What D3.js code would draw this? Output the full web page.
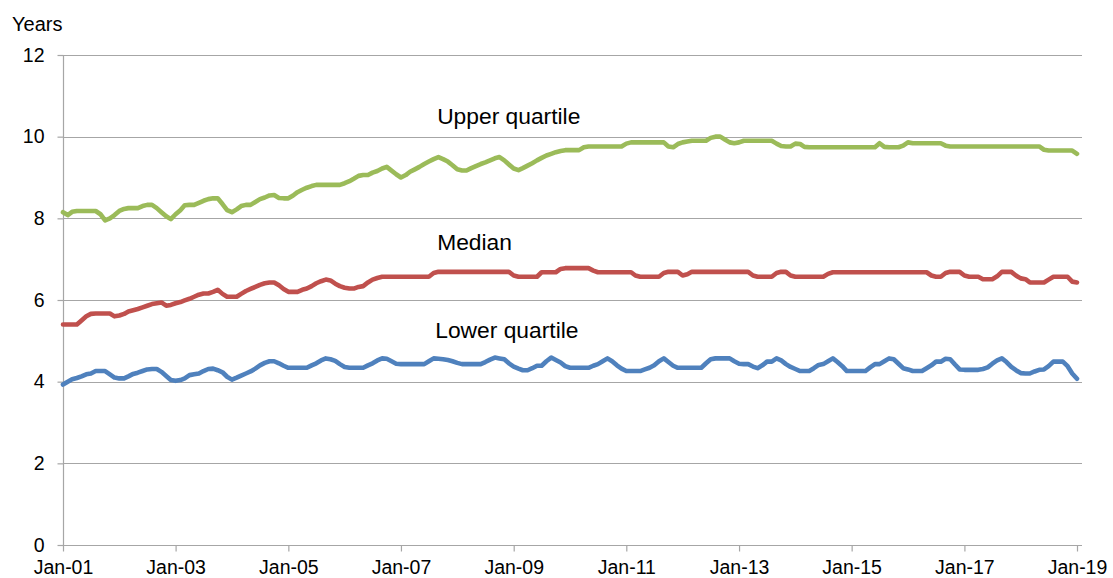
<!DOCTYPE html>
<html>
<head>
<meta charset="utf-8">
<script src="https://cdn.jsdelivr.net/npm/d3@7"></script>
<style>
  html, body { margin: 0; padding: 0; background: #fff; }
  svg { display: block; font-family: "Liberation Sans", Arial, sans-serif; }
</style>
</head>
<body>
<svg id="chart" width="1113" height="578"></svg>
<script>
// ---- Data (monthly, Jan-2001 .. Jan-2019) ----
const firstMonth = new Date(2001, 0, 1);
const lastMonth = new Date(2019, 0, 1);

const upperQuartile = [
  8.15, 8.08, 8.16, 8.18, 8.18, 8.18, 8.18, 8.18, 8.10, 7.95, 8.00, 8.08, // 2001
  8.18, 8.23, 8.25, 8.25, 8.25, 8.30, 8.33, 8.33, 8.25, 8.15, 8.05, 7.98, // 2002
  8.10, 8.20, 8.32, 8.33, 8.33, 8.38, 8.43, 8.47, 8.49, 8.49, 8.35, 8.20, // 2003
  8.15, 8.22, 8.30, 8.33, 8.33, 8.40, 8.47, 8.51, 8.56, 8.57, 8.50, 8.49, // 2004
  8.49, 8.56, 8.64, 8.70, 8.75, 8.79, 8.82, 8.82, 8.82, 8.82, 8.82, 8.82, // 2005
  8.86, 8.91, 8.97, 9.04, 9.06, 9.06, 9.12, 9.16, 9.22, 9.26, 9.17, 9.08, // 2006
  9.00, 9.06, 9.14, 9.20, 9.26, 9.33, 9.39, 9.45, 9.50, 9.45, 9.39, 9.30, // 2007
  9.20, 9.17, 9.17, 9.23, 9.28, 9.33, 9.37, 9.42, 9.47, 9.50, 9.42, 9.32, // 2008
  9.22, 9.18, 9.23, 9.29, 9.35, 9.42, 9.48, 9.54, 9.58, 9.62, 9.65, 9.67, // 2009
  9.67, 9.67, 9.67, 9.74, 9.76, 9.76, 9.76, 9.76, 9.76, 9.76, 9.76, 9.76, // 2010
  9.83, 9.86, 9.86, 9.86, 9.86, 9.86, 9.86, 9.86, 9.86, 9.76, 9.74, 9.82, // 2011
  9.86, 9.88, 9.90, 9.90, 9.90, 9.90, 9.97, 10.00, 10.00, 9.93, 9.86, 9.84, // 2012
  9.86, 9.90, 9.90, 9.90, 9.90, 9.90, 9.90, 9.90, 9.83, 9.77, 9.76, 9.76, // 2013
  9.83, 9.82, 9.75, 9.74, 9.74, 9.74, 9.74, 9.74, 9.74, 9.74, 9.74, 9.74, // 2014
  9.74, 9.74, 9.74, 9.74, 9.74, 9.74, 9.84, 9.75, 9.74, 9.74, 9.74, 9.78, // 2015
  9.86, 9.84, 9.84, 9.84, 9.84, 9.84, 9.84, 9.84, 9.78, 9.76, 9.76, 9.76, // 2016
  9.76, 9.76, 9.76, 9.76, 9.76, 9.76, 9.76, 9.76, 9.76, 9.76, 9.76, 9.76, // 2017
  9.76, 9.76, 9.76, 9.76, 9.76, 9.68, 9.66, 9.66, 9.66, 9.66, 9.66, 9.66, // 2018
  9.58                                                                    // Jan-2019
];

const median = [
  5.40, 5.40, 5.40, 5.40, 5.50, 5.60, 5.66, 5.67, 5.67, 5.67, 5.67, 5.60, // 2001
  5.62, 5.66, 5.72, 5.75, 5.78, 5.82, 5.86, 5.90, 5.92, 5.94, 5.86, 5.88, // 2002
  5.92, 5.95, 5.99, 6.03, 6.08, 6.13, 6.16, 6.16, 6.20, 6.25, 6.15, 6.08, // 2003
  6.08, 6.08, 6.15, 6.22, 6.27, 6.32, 6.37, 6.41, 6.43, 6.43, 6.36, 6.27, // 2004
  6.20, 6.20, 6.20, 6.25, 6.28, 6.34, 6.41, 6.46, 6.50, 6.48, 6.40, 6.34, // 2005
  6.30, 6.28, 6.28, 6.32, 6.34, 6.43, 6.50, 6.54, 6.57, 6.57, 6.57, 6.57, // 2006
  6.57, 6.57, 6.57, 6.57, 6.57, 6.57, 6.57, 6.66, 6.69, 6.69, 6.69, 6.69, // 2007
  6.69, 6.69, 6.69, 6.69, 6.69, 6.69, 6.69, 6.69, 6.69, 6.69, 6.69, 6.69, // 2008
  6.60, 6.57, 6.57, 6.57, 6.57, 6.57, 6.68, 6.68, 6.68, 6.68, 6.76, 6.78, // 2009
  6.78, 6.78, 6.78, 6.78, 6.78, 6.72, 6.68, 6.68, 6.68, 6.68, 6.68, 6.68, // 2010
  6.68, 6.68, 6.60, 6.57, 6.57, 6.57, 6.57, 6.57, 6.66, 6.69, 6.69, 6.69, // 2011
  6.60, 6.63, 6.69, 6.69, 6.69, 6.69, 6.69, 6.69, 6.69, 6.69, 6.69, 6.69, // 2012
  6.69, 6.69, 6.69, 6.60, 6.57, 6.57, 6.57, 6.57, 6.66, 6.69, 6.69, 6.60, // 2013
  6.57, 6.57, 6.57, 6.57, 6.57, 6.57, 6.57, 6.64, 6.68, 6.68, 6.68, 6.68, // 2014
  6.68, 6.68, 6.68, 6.68, 6.68, 6.68, 6.68, 6.68, 6.68, 6.68, 6.68, 6.68, // 2015
  6.68, 6.68, 6.68, 6.68, 6.68, 6.60, 6.57, 6.57, 6.66, 6.69, 6.69, 6.69, // 2016
  6.60, 6.57, 6.57, 6.57, 6.51, 6.51, 6.51, 6.58, 6.69, 6.69, 6.69, 6.60, // 2017
  6.53, 6.51, 6.43, 6.43, 6.43, 6.43, 6.50, 6.57, 6.57, 6.57, 6.57, 6.45, // 2018
  6.43                                                                    // Jan-2019
];

const lowerQuartile = [
  3.93, 4.00, 4.06, 4.09, 4.13, 4.18, 4.20, 4.26, 4.26, 4.26, 4.18, 4.10, // 2001
  4.08, 4.08, 4.13, 4.19, 4.22, 4.26, 4.30, 4.31, 4.31, 4.24, 4.14, 4.04, // 2002
  4.02, 4.04, 4.08, 4.16, 4.18, 4.20, 4.26, 4.31, 4.32, 4.28, 4.23, 4.12, // 2003
  4.05, 4.10, 4.15, 4.20, 4.25, 4.32, 4.40, 4.46, 4.50, 4.50, 4.45, 4.39, // 2004
  4.34, 4.34, 4.34, 4.34, 4.34, 4.40, 4.45, 4.52, 4.57, 4.55, 4.51, 4.43, // 2005
  4.36, 4.34, 4.34, 4.34, 4.34, 4.40, 4.45, 4.52, 4.57, 4.56, 4.50, 4.44, // 2006
  4.43, 4.43, 4.43, 4.43, 4.43, 4.43, 4.50, 4.57, 4.56, 4.55, 4.53, 4.50, // 2007
  4.46, 4.43, 4.43, 4.43, 4.43, 4.43, 4.48, 4.54, 4.59, 4.57, 4.55, 4.45, // 2008
  4.37, 4.32, 4.28, 4.28, 4.33, 4.39, 4.39, 4.50, 4.59, 4.53, 4.47, 4.38, // 2009
  4.34, 4.34, 4.34, 4.34, 4.34, 4.39, 4.43, 4.50, 4.57, 4.50, 4.40, 4.32, // 2010
  4.26, 4.26, 4.26, 4.26, 4.30, 4.34, 4.40, 4.50, 4.57, 4.48, 4.39, 4.34, // 2011
  4.34, 4.34, 4.34, 4.34, 4.34, 4.45, 4.55, 4.57, 4.57, 4.57, 4.57, 4.50, // 2012
  4.44, 4.43, 4.43, 4.37, 4.33, 4.40, 4.49, 4.49, 4.57, 4.52, 4.43, 4.36, // 2013
  4.31, 4.26, 4.26, 4.26, 4.33, 4.41, 4.43, 4.50, 4.57, 4.48, 4.38, 4.26, // 2014
  4.26, 4.26, 4.26, 4.26, 4.35, 4.43, 4.43, 4.50, 4.57, 4.55, 4.44, 4.33, // 2015
  4.30, 4.26, 4.26, 4.26, 4.33, 4.40, 4.49, 4.49, 4.56, 4.55, 4.42, 4.30, // 2016
  4.29, 4.29, 4.29, 4.29, 4.31, 4.35, 4.44, 4.52, 4.57, 4.48, 4.36, 4.28, // 2017
  4.21, 4.20, 4.20, 4.25, 4.29, 4.30, 4.38, 4.49, 4.49, 4.49, 4.38, 4.20, // 2018
  4.07                                                                    // Jan-2019
];

const seriesNames = ["Upper quartile", "Median", "Lower quartile"];
const seriesColors = ["#9BBB59", "#C0504D", "#4F81BD"];
const xTickLabels = ["Jan-01", "Jan-03", "Jan-05", "Jan-07", "Jan-09", "Jan-11", "Jan-13", "Jan-15", "Jan-17", "Jan-19"];
const yTickValues = [0, 2, 4, 6, 8, 10, 12];
const yAxisTitle = "Years";
// label anchor points (months after Jan-01, value) for the series annotations
const labelMonths = [79.7, 79.7, 79.3];
const labelValues = [10.31, 7.22, 5.07];

// ---- Chart ----
const svg = d3.select("#chart");
const plotLeft = 63, plotRight = 1077, plotTop = 55, plotBottom = 545;

const months = d3.timeMonth.range(firstMonth, d3.timeMonth.offset(lastMonth, 1));
const x = d3.scaleTime().domain([firstMonth, lastMonth]).range([plotLeft, plotRight]);
const y = d3.scaleLinear().domain([0, 12]).range([plotBottom, plotTop]);
const monthIndex = d3.scaleLinear().domain([0, months.length - 1]).range([plotLeft, plotRight]);

const gridColor = "#A6A6A6";
const tickDates = xTickLabels.map(l => d3.timeParse("%b-%y")(l));

// gridlines
svg.append("g")
  .selectAll("line")
  .data(yTickValues.filter(v => v > 0))
  .join("line")
  .attr("x1", plotLeft).attr("x2", plotRight + 5)
  .attr("y1", d => Math.round(y(d)) + 0.5).attr("y2", d => Math.round(y(d)) + 0.5)
  .attr("stroke", gridColor).attr("stroke-width", 1.2);

// y axis
const yAxis = svg.append("g")
  .attr("transform", `translate(${plotLeft + 0.5},0)`)
  .call(d3.axisLeft(y).tickValues(yTickValues).tickSize(6).tickPadding(13).tickFormat(d3.format("d")));
yAxis.select(".domain").attr("stroke", gridColor).attr("stroke-width", 1.2).attr("d", `M0,${y(12)}V${y(0)}`);
yAxis.selectAll(".tick line").attr("stroke", gridColor).attr("stroke-width", 1.2);
yAxis.selectAll(".tick text").attr("fill", "#000").style("font-size", "19.5px").attr("font-family", "Liberation Sans, Arial, sans-serif");

// x axis
const xAxis = svg.append("g")
  .attr("transform", `translate(0,${Math.round(y(0)) + 0.5})`)
  .call(d3.axisBottom(x).tickValues(tickDates).tickSize(6).tickPadding(9).tickFormat((d, i) => xTickLabels[i]));
xAxis.select(".domain").attr("stroke", gridColor).attr("stroke-width", 1.2).attr("d", `M${plotLeft},0H${plotRight + 5}`);
xAxis.selectAll(".tick line").attr("stroke", gridColor).attr("stroke-width", 1.2);
xAxis.selectAll(".tick text").attr("fill", "#000").style("font-size", "19.5px").attr("font-family", "Liberation Sans, Arial, sans-serif");

// y title
svg.append("text")
  .attr("x", 12).attr("y", 31)
  .style("font-size", "20px")
  .attr("fill", "#000")
  .text(yAxisTitle);

// lines
const allSeries = [upperQuartile, median, lowerQuartile];
const line = d3.line()
  .x((d, i) => x(months[i]))
  .y(d => y(d));

svg.append("g")
  .selectAll("path")
  .data(allSeries)
  .join("path")
  .attr("d", d => line(d))
  .attr("fill", "none")
  .attr("stroke", (d, i) => seriesColors[i])
  .attr("stroke-width", 4.6)
  .attr("stroke-linejoin", "round")
  .attr("stroke-linecap", "round");

// series labels
svg.append("g")
  .selectAll("text")
  .data(seriesNames)
  .join("text")
  .attr("x", (d, i) => monthIndex(labelMonths[i]))
  .attr("y", (d, i) => y(labelValues[i]))
  .style("font-size", "22.8px")
  .attr("fill", "#000")
  .text(d => d);
</script>
</body>
</html>
